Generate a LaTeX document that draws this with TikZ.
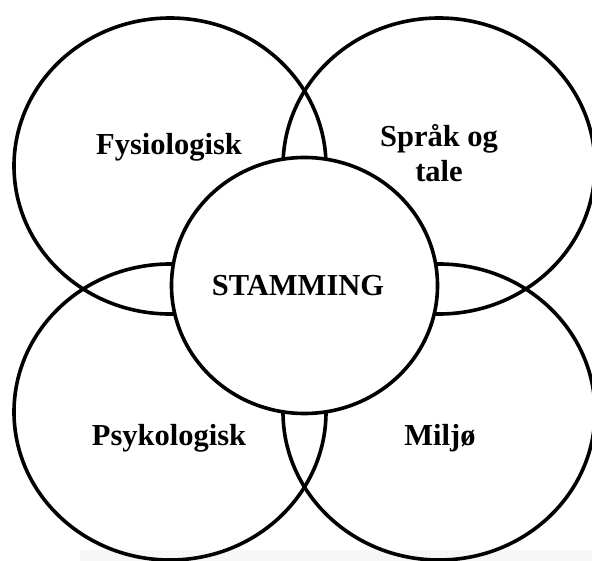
\documentclass[tikz,border=0pt]{standalone}
\usepackage{fontspec}
\setmainfont{Liberation Serif}
\usetikzlibrary{shapes.geometric}
\begin{document}
\begin{tikzpicture}[x=1pt,y=-1pt,
  ring/.style={draw=black, line width=3.6pt, ellipse, inner sep=0pt,
    minimum width=312pt, minimum height=296pt},
  hub/.style={draw=black, fill=white, line width=3.6pt, ellipse, inner sep=0pt,
    minimum width=266pt, minimum height=256pt},
  lbl/.style={font=\fontsize{30.5}{35}\selectfont\bfseries, inner sep=0pt, anchor=base, align=center}]
\useasboundingbox (0,0) rectangle (592,561);
\fill[black!3] (80,550) rectangle (592,561);
\node[ring] (fys) at (170,166) {};
\node[ring] (spr) at (439,166) {};
\node[ring] (psy) at (170,412) {};
\node[ring] (mil) at (439,412) {};
\node[lbl] (tfys) at (169,155) {Fysiologisk};
\node[lbl] (tspr) at (439,182) {Språk og\\tale};
\node[lbl] (tpsy) at (169,446) {Psykologisk};
\node[lbl] (tmil) at (440,446) {Miljø};
\node[hub] (sta) at (304.5,285.5) {};
\node[lbl] (tsta) at (298,296) {STAMMING};
\end{tikzpicture}
\end{document}
